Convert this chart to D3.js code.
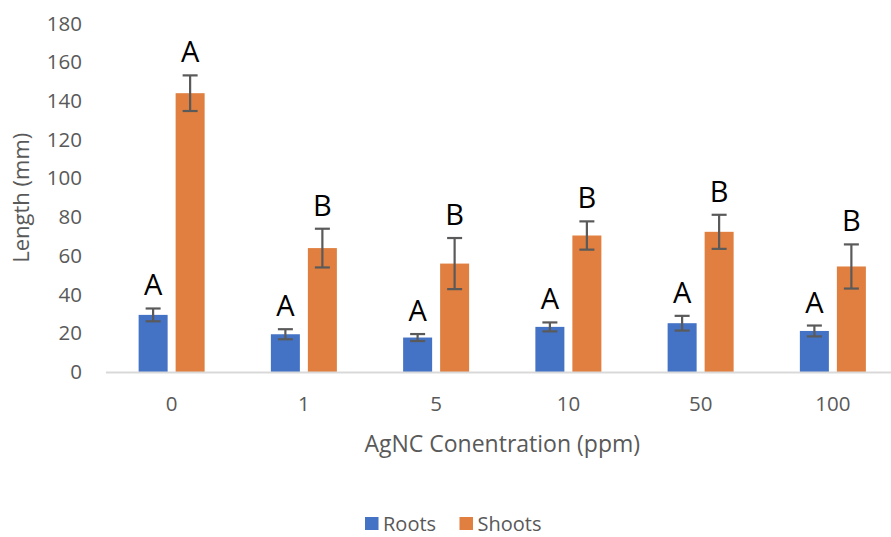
<!DOCTYPE html>
<html>
<head>
<meta charset="utf-8">
<script src="https://cdn.jsdelivr.net/npm/d3@7"></script>
<style>
  html, body { margin: 0; padding: 0; background: #fff; }
  svg { display: block; font-family: "Open Sans", sans-serif; }
</style>
</head>
<body>
<svg id="chart" width="891" height="537"></svg>
<script>
// AgNC concentration groups (ppm)
const categories = ["0", "1", "5", "10", "50", "100"];
const seriesNames = ["Roots", "Shoots"];

// Mean lengths (mm) and their error half-widths
const roots      = [29.5, 19.5, 17.8, 23.3, 25.2, 21.2];
const rootsErr   = [3.3, 2.6, 1.8, 2.3, 3.8, 2.8];
const shoots     = [144, 64, 56, 70.5, 72.4, 54.5];
const shootsErr  = [9.2, 10, 13.2, 7.3, 8.8, 11.4];

// Significance letters above each bar
const rootsLetters  = ["A", "A", "A", "A", "A", "A"];
const shootsLetters = ["A", "B", "B", "B", "B", "B"];

// y-axis tick values
const yTicks = [0, 20, 40, 60, 80, 100, 120, 140, 160, 180];

const colors = { Roots: "#4472C4", Shoots: "#E07F3F" };

const rows = categories.flatMap((c, i) => [
  { cat: c, series: "Roots",  value: roots[i],  err: rootsErr[i],  letter: rootsLetters[i] },
  { cat: c, series: "Shoots", value: shoots[i], err: shootsErr[i], letter: shootsLetters[i] }
]);

const svg = d3.select("#chart");

const x0 = d3.scaleBand().domain(categories).range([105.5, 899]).paddingInner(0).paddingOuter(0);
const groupWidth = 66;
const x1 = d3.scaleBand().domain(seriesNames)
  .range([-groupWidth / 2, groupWidth / 2])
  .paddingInner(8 / 37).paddingOuter(0);
const y = d3.scaleLinear().domain([0, 180]).range([372, 23.5]);

const barX = d => x0(d.cat) + x0.bandwidth() / 2 + x1(d.series);

// y-axis labels (no axis line, no ticks)
const yAxis = svg.append("g")
  .attr("transform", "translate(90,0)")
  .call(d3.axisLeft(y).tickValues(yTicks).tickSize(0).tickPadding(8));
yAxis.select(".domain").remove();
yAxis.selectAll("text")
  .attr("fill", "#595959")
  .style("font-size", "20.5px")
  .style("font-family", "'Open Sans', sans-serif");

// bars
svg.append("g").selectAll("rect")
  .data(rows)
  .join("rect")
  .attr("x", barX)
  .attr("width", x1.bandwidth())
  .attr("y", d => y(d.value))
  .attr("height", d => y(0) - y(d.value))
  .attr("fill", d => colors[d.series]);

// x axis
const xAxis = svg.append("g")
  .attr("transform", `translate(0,${y(0)})`)
  .call(d3.axisBottom(x0).tickSize(0).tickPadding(24));
xAxis.select(".domain").attr("stroke", "#D9D9D9").attr("stroke-width", 2);
xAxis.selectAll("text")
  .attr("fill", "#595959")
  .style("font-size", "20.5px")
  .style("font-family", "'Open Sans', sans-serif");

// error bars
const capHalf = 7.5;
const eb = svg.append("g").attr("stroke", "#5A5A5A").attr("stroke-width", 2.2).attr("fill", "none");
eb.selectAll("g")
  .data(rows)
  .join("g")
  .each(function (d) {
    const cx = barX(d) + x1.bandwidth() / 2;
    const g = d3.select(this);
    g.append("line").attr("x1", cx).attr("x2", cx).attr("y1", y(d.value + d.err)).attr("y2", y(d.value - d.err));
    g.append("line").attr("x1", cx - capHalf).attr("x2", cx + capHalf).attr("y1", y(d.value + d.err)).attr("y2", y(d.value + d.err));
    g.append("line").attr("x1", cx - capHalf).attr("x2", cx + capHalf).attr("y1", y(d.value - d.err)).attr("y2", y(d.value - d.err));
  });

// significance letters
svg.append("g").selectAll("text")
  .data(rows)
  .join("text")
  .attr("x", d => barX(d) + x1.bandwidth() / 2)
  .attr("y", d => y(d.value + d.err) - 13)
  .attr("text-anchor", "middle")
  .attr("fill", "#000")
  .style("font-size", "29px")
  .text(d => d.letter);

// axis titles
svg.append("text")
  .attr("x", (x0.range()[0] + x0.range()[1]) / 2)
  .attr("y", 451.5)
  .attr("text-anchor", "middle")
  .attr("fill", "#595959")
  .style("font-size", "23px")
  .text("AgNC Conentration (ppm)");

svg.append("text")
  .attr("transform", `translate(28.5,${(y(0) + y(180)) / 2}) rotate(-90)`)
  .attr("text-anchor", "middle")
  .attr("fill", "#595959")
  .style("font-size", "22px")
  .text("Length (mm)");

// legend
const legendItems = [
  { name: "Roots", x: 365 },
  { name: "Shoots", x: 459.5 }
];
const lg = svg.append("g");
legendItems.forEach(item => {
  lg.append("rect")
    .attr("x", item.x).attr("y", 517).attr("width", 13.5).attr("height", 13)
    .attr("fill", colors[item.name]);
  lg.append("text")
    .attr("x", item.x + 18).attr("y", 531)
    .attr("fill", "#595959")
    .style("font-size", "20px")
    .text(item.name);
});
</script>
</body>
</html>
